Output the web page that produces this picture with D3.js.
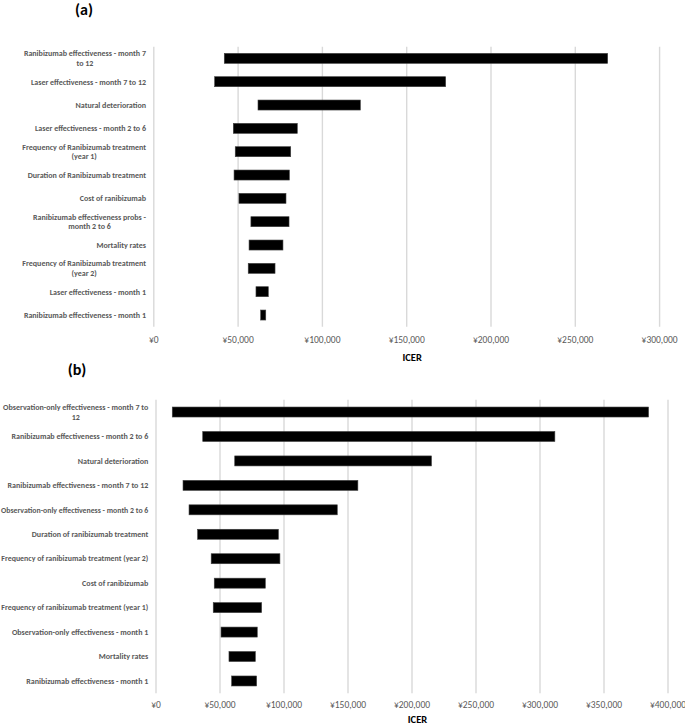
<!DOCTYPE html>
<html>
<head>
<meta charset="utf-8">
<script src="https://cdn.jsdelivr.net/npm/d3@7/dist/d3.min.js"></script>
<style>
  html, body { margin: 0; padding: 0; background: #fff; }
  svg { display: block; }
  text { font-family: Carlito, Lato, "Open Sans", sans-serif; }
</style>
</head>
<body>
<svg id="chart" width="685" height="726"></svg>
<script>
// ---------- Data ----------
const panelATitle = "(a)";
const panelALabels = [
  ["Ranibizumab effectiveness  - month 7", "to 12"],
  ["Laser effectiveness - month 7 to 12"],
  ["Natural deterioration"],
  ["Laser effectiveness - month 2 to 6"],
  ["Frequency of Ranibizumab treatment", "(year 1)"],
  ["Duration of Ranibizumab treatment"],
  ["Cost of ranibizumab"],
  ["Ranibizumab effectiveness probs -", "month 2 to 6"],
  ["Mortality rates"],
  ["Frequency of Ranibizumab treatment", "(year 2)"],
  ["Laser effectiveness - month 1"],
  ["Ranibizumab effectiveness - month 1"]
];
const panelALow  = [42100, 36400, 62100, 47450, 48600, 47900, 50800, 57900, 56800, 56300, 60900, 63700];
const panelAHigh = [269500, 173400, 122800, 85400, 81500, 80700, 78700, 80500, 76900, 72200, 68200, 66700];
const panelATicks = [0, 50000, 100000, 150000, 200000, 250000, 300000];

const panelBTitle = "(b)";
const panelBLabels = [
  ["Observation-only effectiveness - month 7 to", "12"],
  ["Ranibizumab effectiveness - month 2 to 6"],
  ["Natural deterioration"],
  ["Ranibizumab effectiveness - month 7 to 12"],
  ["Observation-only effectiveness - month 2 to 6"],
  ["Duration of ranibizumab treatment"],
  ["Frequency of ranibizumab treatment (year 2)"],
  ["Cost of ranibizumab"],
  ["Frequency of ranibizumab treatment (year 1)"],
  ["Observation-only effectiveness  - month 1"],
  ["Mortality rates"],
  ["Ranibizumab effectiveness - month 1"]
];
const panelBLow  = [13100, 36900, 61900, 21500, 26200, 32900, 43500, 45900, 45100, 51200, 57400, 59500];
const panelBHigh = [385200, 312000, 215600, 158100, 142000, 96000, 97200, 85800, 82900, 79500, 78000, 79000];
const panelBTicks = [0, 50000, 100000, 150000, 200000, 250000, 300000, 350000, 400000];

const axisTitle = "ICER";

// ---------- Drawing ----------
const svg = d3.select("#chart");
const fmt = d => "\u00a5" + d3.format(",")(d);

function drawPanel(cfg) {
  const g = svg.append("g");
  const x = d3.scaleLinear().domain(cfg.domain).range([cfg.x0, cfg.x1]);
  const idx = d3.range(cfg.labels.length);
  const y = d3.scaleBand().domain(idx).range([cfg.y0, cfg.y1]).paddingInner(0).paddingOuter(0);
  const barH = cfg.barH;

  // gridlines
  const grid = g.append("g")
    .attr("transform", `translate(0,${cfg.y1})`)
    .call(d3.axisBottom(x).tickValues(cfg.ticks).tickSize(-(cfg.y1 - cfg.y0)).tickFormat(""));
  grid.select(".domain").remove();
  grid.selectAll(".tick line").attr("stroke", "#d9d9d9").attr("stroke-width", 1.4);

  // tick labels
  const ax = g.append("g")
    .attr("transform", `translate(0,${cfg.tickY})`)
    .call(d3.axisBottom(x).tickValues(cfg.ticks).tickSize(0).tickPadding(0).tickFormat(fmt));
  ax.select(".domain").remove();
  ax.selectAll(".tick text")
    .attr("fill", "#595959")
    .attr("font-size", 9.5)
    .attr("dy", "0.35em")
    .attr("y", 0);

  // bars
  g.selectAll("rect.bar").data(idx).enter().append("rect")
    .attr("class", "bar")
    .attr("x", i => x(cfg.low[i]))
    .attr("width", i => x(cfg.high[i]) - x(cfg.low[i]))
    .attr("y", i => y(i) + y.bandwidth() / 2 - barH / 2)
    .attr("height", barH)
    .attr("fill", "#000")
    .attr("stroke", "#404040")
    .attr("stroke-width", 0.6);

  // category labels
  const lineH = 9.5;
  idx.forEach(i => {
    const lines = cfg.labels[i];
    const cy = y(i) + y.bandwidth() / 2;
    const t = g.append("text")
      .attr("font-size", 8)
      .attr("font-weight", "bold")
      .attr("fill", "#595959");
    const spans = lines.map((l, k) => t.append("tspan")
      .attr("y", cy + (k - (lines.length - 1) / 2) * lineH)
      .attr("dy", "0.35em")
      .text(l));
    let w = d3.max(spans, s => s.node().getComputedTextLength());
    const avail = cfg.labelRight - 1;
    if (w > avail) {
      t.attr("font-size", 8 * avail / w);
      w = d3.max(spans, s => s.node().getComputedTextLength());
    }
    if (lines.length === 1) {
      t.attr("text-anchor", "end");
      spans[0].attr("x", cfg.labelRight);
    } else {
      t.attr("text-anchor", "middle");
      spans.forEach(s => s.attr("x", cfg.labelRight - w / 2));
    }
  });

  // axis title
  g.append("text")
    .attr("x", (cfg.x0 + cfg.x1) / 2 + 6)
    .attr("y", cfg.titleY)
    .attr("dy", "0.35em")
    .attr("text-anchor", "middle")
    .attr("font-size", 10.5)
    .attr("font-weight", "bold")
    .attr("fill", "#000")
    .text(axisTitle);

  // panel title
  g.append("text")
    .attr("x", cfg.panelX)
    .attr("y", cfg.panelY)
    .attr("text-anchor", "middle")
    .attr("font-size", 16)
    .attr("font-weight", "bold")
    .attr("fill", "#000")
    .text(cfg.panelTitle);
}

drawPanel({
  labels: panelALabels, low: panelALow, high: panelAHigh, ticks: panelATicks,
  domain: [0, 300000], x0: 153.3, x1: 659.1, y0: 46.7, y1: 326.7, barH: 10,
  labelRight: 146, tickY: 340, titleY: 357, panelX: 84, panelY: 15, panelTitle: panelATitle
});

drawPanel({
  labels: panelBLabels, low: panelBLow, high: panelBHigh, ticks: panelBTicks,
  domain: [0, 400000], x0: 155.5, x1: 667.5, y0: 399.8, y1: 693.2, barH: 10,
  labelRight: 148.3, tickY: 705, titleY: 719, panelX: 77, panelY: 375, panelTitle: panelBTitle
});
</script>
</body>
</html>
